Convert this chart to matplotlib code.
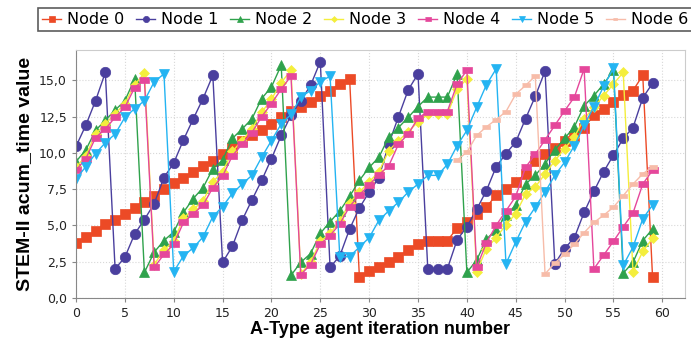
import numpy as np
import matplotlib
matplotlib.use("Agg")
import matplotlib.pyplot as plt
from matplotlib.ticker import FuncFormatter

nan = np.nan
iterations = list(range(60))

node0 = [3.8, 4.2, 4.6, 5.1, 5.4, 5.8, 6.2, 6.6, 7.0, 7.5, 7.9, 8.3, 8.7, 9.1, 9.45,
         9.95, 10.35, 10.85, 11.2, 11.55, 12.0, 12.45, 12.9, 13.2, 13.5, 13.95, 14.3, 14.75, 15.1,
         1.45, 1.85, 2.15, 2.45, 2.85, 3.3, 3.7, 3.95, 3.95, 3.95,
         4.8, 5.25, 5.8, 6.25, 7.1, 7.5, 8.0, 8.55, 9.45, 9.95, 10.35, 10.85, 11.15, 11.75,
         12.6, 13.05, 13.5, 14.0, 14.3, 15.35, 1.45]
node1 = [10.45, 11.9, 13.6, 15.55,
         2.0, 2.8, 4.4, 5.4, 6.5, 8.3, 9.3, 10.9, 12.35, 13.75, 15.35,
         2.45, 3.55, 5.35, 6.75, 8.1, 9.6, 11.2, 12.6, 13.6, 14.65, 16.3,
         2.1, 2.9, 4.75, 6.2, 7.3, 8.3, 10.6, 12.5, 14.35, 15.45,
         2.0, 2.0, 2.0,
         4.0, 4.9, 6.1, 7.4, 9.05, 9.95, 10.75, 12.35, 13.9, 15.65,
         2.35, 3.4, 4.15, 5.9, 7.35, 8.7, 9.85, 11.0, 11.75, 13.8, 14.8]
node2 = [9.4, 10.2, 11.55, 12.25, 12.95, 13.6, 15.1,
         1.75, 3.15, 3.95, 4.55, 5.9, 6.85, 7.6, 8.9, 9.5, 11.0, 11.65, 12.35, 13.75, 14.55, 16.05,
         1.55, 2.45, 3.05, 4.45, 5.25, 6.0, 7.0, 8.1, 9.0, 9.7, 11.1, 11.75, 12.45, 13.2,
         13.85, 13.85, 13.85, 15.45,
         1.75, 2.6, 4.05, 4.7, 5.7, 6.4, 7.85, 8.45, 9.25, 10.2, 11.0, 11.8, 13.25, 13.95, 14.75, 15.7,
         1.7, 2.45, 3.95, 4.75]
node3 = [9.0, 9.8, 11.3, 12.0, 12.7, 13.4, 14.7, 15.5,
         2.3, 3.3, 3.9, 5.5, 6.1, 6.7, 8.0, 8.7, 10.1, 10.85, 11.65, 12.8, 13.7, 14.85, 15.7,
         1.65, 2.45, 3.9, 4.45, 5.3, 6.55, 7.3, 8.0, 8.7, 10.15, 10.85, 11.45, 12.15,
         12.65, 12.65, 12.65, 14.4, 15.1,
         1.8, 3.4, 4.15, 5.05, 5.8, 7.15, 7.65, 8.55, 9.45, 10.3, 11.1, 12.35, 13.15, 13.95, 14.75, 15.55,
         1.8, 3.2, 4.1]
node4 = [8.8, 9.6, 11.05, 11.65, 12.45, 13.15, 14.5, 15.05,
         2.1, 3.0, 3.7, 5.2, 5.8, 6.4, 7.6, 8.4, 9.8, 10.6, 11.4, 12.5, 13.4, 14.4, 15.3,
         1.6, 2.3, 3.7, 4.3, 5.1, 6.3, 7.1, 7.8, 8.5, 9.1, 10.6, 11.3, 12.4,
         12.85, 12.85, 12.85, 14.75, 15.7,
         2.1, 3.8, 5.0, 6.0, 7.0, 9.0, 9.9, 10.9, 11.9, 12.9, 13.85, 15.8,
         2.0, 2.95, 3.9, 4.9, 5.85, 7.85, 8.8]
node5 = [8.2, 9.05, 9.95, 10.7, 11.3, 12.45, 13.05, 13.6, 14.9, 15.45,
         1.8, 2.9, 3.45, 4.2, 5.6, 6.3, 7.2, 7.85, 8.45, 9.7, 10.85, 12.0, 12.65, 13.85, 14.3, 14.9, 15.3,
         2.8, 2.85, 3.5, 4.15, 5.35, 6.0, 6.6, 7.3, 7.85, 8.45, 8.45, 9.2, 10.5, 11.55, 13.15, 14.7, 15.8,
         2.35, 3.85, 5.25, 6.25, 7.3, 8.45, 9.35, 10.5, 11.9, 13.2, 14.6, 15.85,
         2.25, 3.5, 5.45, 6.4]
node6 = [nan] * 39 + [9.5, 10.05, 11.2, 11.8, 12.3, 12.85, 14.05, 14.65, 15.3,
                     1.65, 2.4, 3.0, 3.7, 4.5, 5.2, 5.7, 6.25, 7.05, 7.85, 8.55, 9.05]

labels = ["Node 0", "Node 1", "Node 2", "Node 3", "Node 4", "Node 5", "Node 6"]

rect = [(-1, -0.55), (1, -0.55), (1, 0.55), (-1, 0.55)]
styles = [
    dict(color="#ec4a26", marker="s", ms=6.5),
    dict(color="#4a3f9e", marker="o", ms=7.5),
    dict(color="#2fa24c", marker="^", ms=7),
    dict(color="#f4ee3c", marker="D", ms=5),
    dict(color="#e5479b", marker=rect, ms=7),
    dict(color="#24b4f2", marker="v", ms=7),
    dict(color="#f7bca9", marker=rect, ms=6),
]

fig = plt.figure(figsize=(6.91, 3.40), dpi=100)
ax = fig.add_axes([0.110, 0.124, 0.881, 0.729])

series = [node0, node1, node2, node3, node4, node5, node6]
for vals, lab, st in zip(series, labels, styles):
    ax.plot(iterations, vals, lw=1, label=lab, mec=st["color"], mew=0.5, **st)

ax.set_xlim(0, 62.3)
ax.set_ylim(0, 17.1)
ax.set_xticks(range(0, 61, 5))
ax.set_yticks([0, 2.5, 5, 7.5, 10, 12.5, 15])
ax.yaxis.set_major_formatter(FuncFormatter(lambda v, p: f"{v:.1f}".replace(".", ",")))
ax.tick_params(labelsize=9, colors="#222222", length=3, color="#888888")
ax.grid(True, color="#d8d8d8", linestyle=":", lw=0.8)
for s in ["left", "bottom"]:
    ax.spines[s].set_color("#888888")
for s in ["top", "right"]:
    ax.spines[s].set_color("#cccccc")

ax.set_ylabel("STEM-II acum_time value", fontsize=14, fontweight="bold",
              family="Liberation Sans", labelpad=4)
ax.set_xlabel("A-Type agent iteration number", fontsize=13, fontweight="bold",
              family="Liberation Sans", labelpad=1)

leg = fig.legend(loc="upper left", bbox_to_anchor=(0.055, 0.976), borderaxespad=0,
                 ncol=7, fontsize=11.5, frameon=True, fancybox=False, handlelength=1.2,
                 handletextpad=0.35, columnspacing=0.75, borderpad=0.25, markerscale=0.6)
leg.get_frame().set_edgecolor("#333333")
leg.get_frame().set_linewidth(1.2)

fig.savefig("out.png", dpi=100)
